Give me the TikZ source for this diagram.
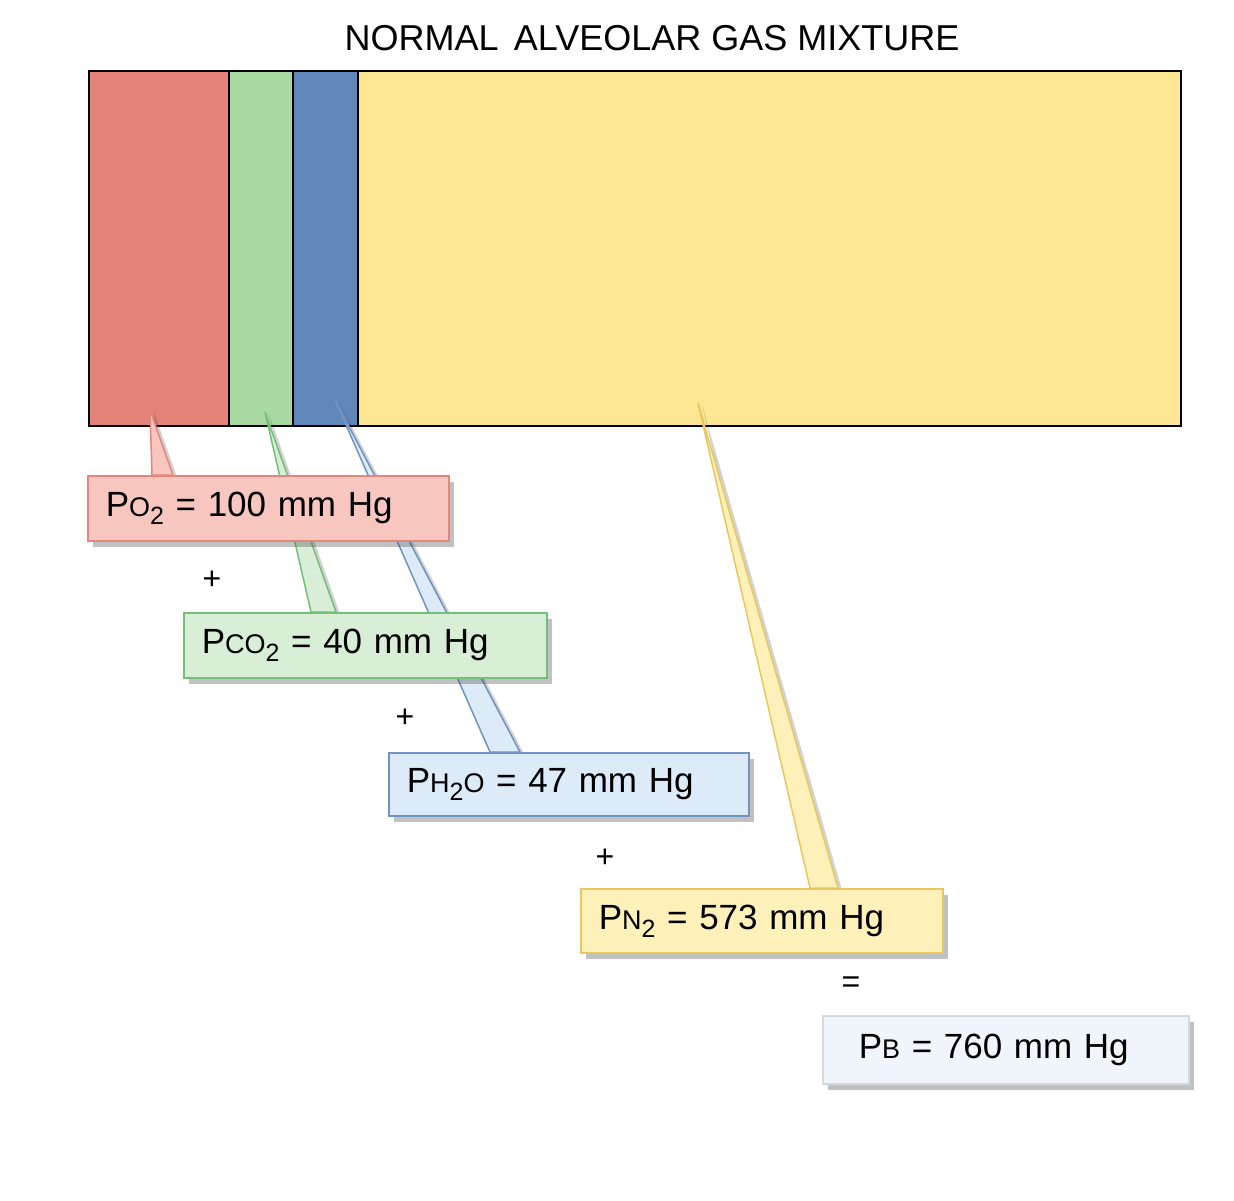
\documentclass[tikz,border=0pt]{standalone}
\usepackage{fontspec}
\setmainfont{Liberation Sans}
\usetikzlibrary{shadows,backgrounds}
\definecolor{barred}{HTML}{E3837A}
\definecolor{bargreen}{HTML}{A8D9A1}
\definecolor{barblue}{HTML}{5F87B9}
\definecolor{baryellow}{HTML}{FDE792}
\definecolor{o2fill}{HTML}{F6C6BF}
\definecolor{o2line}{HTML}{E4867C}
\definecolor{co2fill}{HTML}{D8EED6}
\definecolor{co2line}{HTML}{74BF78}
\definecolor{h2ofill}{HTML}{DDEBF8}
\definecolor{h2oline}{HTML}{6F93C2}
\definecolor{n2fill}{HTML}{FDF0B8}
\definecolor{n2line}{HTML}{E8C85C}
\definecolor{pbfill}{HTML}{EFF5FB}
\definecolor{pbline}{HTML}{D3DAE3}
\newcommand{\gsc}[1]{{\fontsize{27}{27}\selectfont #1}}
\newcommand{\gsub}[1]{\raisebox{-8pt}{\fontsize{25}{25}\selectfont #1}}
\begin{document}
\begin{tikzpicture}[x=1pt, y=-1pt,
  seg/.style={draw=black, line width=2pt, anchor=north west, inner sep=0pt, minimum height=355pt},
  gasbox/.style={draw, line width=1.5pt, anchor=north west, align=left, inner xsep=18pt, inner ysep=0pt,
    font=\fontsize{35}{35}\selectfont, text height=25pt, text depth=8pt,
    drop shadow={shadow xshift=5pt, shadow yshift=-6pt, opacity=0.35, fill=black!70}},
  tail/.style={line width=1.5pt, line join=round,
    drop shadow={shadow xshift=4pt, shadow yshift=-2pt, opacity=0.25, fill=black!70}},
  op/.style={font=\fontsize{32}{32}\selectfont}]
\useasboundingbox (0,0) rectangle (1234,1200);
\node[font=\fontsize{36}{36}\selectfont] (title) at (652,38) {NORMAL\hspace{0.15em} ALVEOLAR GAS MIXTURE};
% the bar
\begin{scope}[on background layer]
\node[seg, fill=barred, minimum width=140pt] (o2seg) at (88,70) {};
\node[seg, fill=bargreen, minimum width=64pt] (co2seg) at (228,70) {};
\node[seg, fill=barblue, minimum width=65pt] (h2oseg) at (292,70) {};
\node[seg, fill=baryellow, minimum width=823pt] (n2seg) at (357,70) {};
\end{scope}
\coordinate (o2tip) at (150,410);
\coordinate (co2tip) at (265,412);
\coordinate (h2otip) at (335,400);
\coordinate (n2tip) at (698,403);
% the boxes
\node[gasbox, fill=o2fill, draw=o2line, text width=325pt, minimum height=65pt] (o2box) at (87,475)
  {P\gsc{O}\gsub{2} = 100 mm Hg};
\node[gasbox, fill=co2fill, draw=co2line, text width=327pt, minimum height=65pt] (co2box) at (183,612)
  {P\gsc{CO}\gsub{2} = 40 mm Hg};
\node[gasbox, fill=h2ofill, draw=h2oline, text width=324pt, minimum height=63pt] (h2obox) at (388,752)
  {P\gsc{H}\gsub{2}\gsc{O} = 47 mm Hg};
\node[gasbox, fill=n2fill, draw=n2line, text width=326pt, minimum height=64pt] (n2box) at (580,888)
  {P\gsc{N}\gsub{2} = 573 mm Hg};
\node[gasbox, fill=pbfill, draw=pbline, minimum height=68pt, inner xsep=36pt,
  text width=294pt] (pbbox) at (822,1015)
  {P\gsc{B} = 760 mm Hg};
\node[op] (plus1) at (212,580) {+};
\node[op] (plus2) at (405,718) {+};
\node[op] (plus3) at (605,858) {+};
\node[op] (equals) at (851,985) {=};
% the callout tails
\begin{scope}[on background layer]
\draw[tail, draw=o2line, fill=o2fill] (o2tip) -- ([xshift=65pt]o2box.north west)
  -- ([xshift=86pt]o2box.north west) -- cycle;
\draw[tail, draw=co2line, fill=co2fill] (co2tip) -- ([xshift=128pt]co2box.north west)
  -- ([xshift=153pt]co2box.north west) -- cycle;
\draw[tail, draw=h2oline, fill=h2ofill] (h2otip) -- ([xshift=102pt]h2obox.north west)
  -- ([xshift=132pt]h2obox.north west) -- cycle;
\draw[tail, draw=n2line, fill=n2fill] (n2tip) -- ([xshift=230pt]n2box.north west)
  -- ([xshift=258pt]n2box.north west) -- cycle;
\end{scope}
\end{tikzpicture}
\end{document}
